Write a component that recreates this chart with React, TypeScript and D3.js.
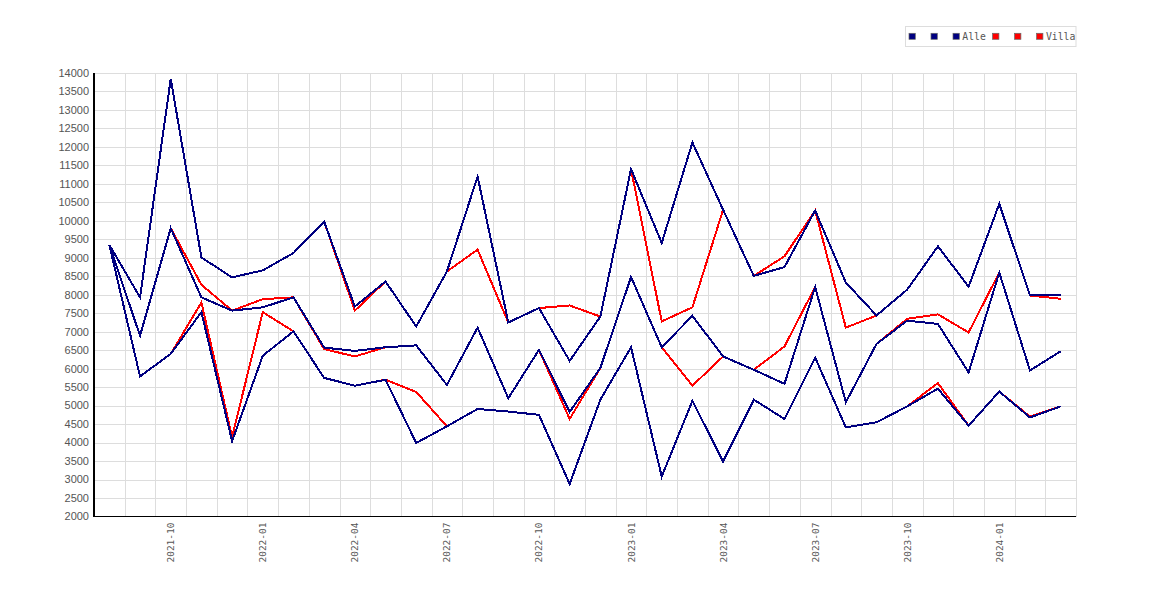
import * as d3 from 'd3';
import React from 'react';

const months = [
  '2021-08', '2021-09', '2021-10', '2021-11', '2021-12',
  '2022-01', '2022-02', '2022-03', '2022-04', '2022-05', '2022-06',
  '2022-07', '2022-08', '2022-09', '2022-10', '2022-11', '2022-12',
  '2023-01', '2023-02', '2023-03', '2023-04', '2023-05', '2023-06',
  '2023-07', '2023-08', '2023-09', '2023-10', '2023-11', '2023-12',
  '2024-01', '2024-02', '2024-03'
];

const alleHigh = [9350, 7930, 13840, 9010, 8470, 8660, 9130, 9980, 7680, 8360, 7140, 8630, 11200, 7250, 7640, 6210, 7410, 11400, 9400, 12120, 10300, 8510, 8750, 10280, 8330, 7440, 8140, 9310, 8220, 10460, 7980, 7980];
const alleMid = [9350, 6890, 9800, 7930, 7570, 7660, 7930, 6570, 6480, 6580, 6630, 5560, 7110, 5200, 6510, 4830, 6020, 8480, 6580, 7430, 6330, 5970, 5590, 8210, 5090, 6670, 7300, 7210, 5900, 8600, 5950, 6470];
const alleLow = [9350, 5790, 6400, 7530, 4040, 6350, 7010, 5750, 5540, 5700, 3990, 4440, 4910, 4840, 4750, 2880, 5160, 6580, 3080, 5130, 3490, 5160, 4640, 6300, 4410, 4550, 4980, 5460, 4460, 5380, 4680, 4980];

const villaHigh = [9350, 7930, 13840, 9010, 8470, 8660, 9130, 9980, 7570, 8360, 7140, 8630, 9220, 7250, 7640, 7710, 7410, 11400, 7280, 7660, 10300, 8510, 9040, 10280, 7110, 7440, 8140, 9310, 8220, 10460, 7980, 7890];
const villaMid = [9350, 6890, 9800, 8270, 7570, 7880, 7930, 6530, 6330, 6580, 6630, 5560, 7110, 5200, 6510, 4640, 6020, 8480, 6580, 5540, 6330, 5970, 6600, 8210, 5090, 6670, 7350, 7470, 6980, 8600, 5950, 6470];
const villaLow = [9350, 5790, 6400, 7790, 4150, 7530, 7010, 5750, 5540, 5700, 5370, 4440, 4910, 4840, 4750, 2880, 5160, 6580, 3080, 5130, 3490, 5160, 4640, 6300, 4410, 4550, 4980, 5610, 4460, 5380, 4700, 4980];

const yTicks = d3.range(2000, 14001, 500);

const legendItems = [
  {label: '', color: '#000080'},
  {label: '', color: '#000080'},
  {label: 'Alle', color: '#000080'},
  {label: '', color: '#ff0000'},
  {label: '', color: '#ff0000'},
  {label: 'Villa', color: '#ff0000'}
];

const series = [
  {values: villaHigh, color: '#ff0000'},
  {values: villaMid, color: '#ff0000'},
  {values: villaLow, color: '#ff0000'},
  {values: alleHigh, color: '#000080'},
  {values: alleMid, color: '#000080'},
  {values: alleLow, color: '#000080'}
];

const left = 94;
const right = 1076;
const top = 73;
const bottom = 516.5;

export default function App() {
  const x = d3.scaleBand<string>().domain(months).range([left, right]);
  const y = d3.scaleLinear().domain([2000, 14000]).range([bottom, top]);
  const cx = (m: string) => (x(m) as number) + x.bandwidth() / 2;

  const line = d3.line<number>()
    .x((_, i) => cx(months[i]))
    .y(d => y(d));

  const quarterLabels = months.filter(m => /-(01|04|07|10)$/.test(m));

  // legend layout
  let lx = 909;
  const legendPos = legendItems.map(item => {
    const pos = lx;
    lx += item.label ? 9.5 + item.label.length * 5.85 + 6.7 : 22;
    return pos;
  });

  return (
    <svg width={1170} height={600} style={{position: 'absolute', left: 0, top: 0}}>
      <rect width={1170} height={600} fill='#fff'/>
      <g stroke='#dddddd' strokeWidth={1} shapeRendering='crispEdges'>
        {yTicks.slice(1).map(t => (
          <line key={t} x1={left} x2={right} y1={Math.round(y(t)) + 0.5} y2={Math.round(y(t)) + 0.5}/>
        ))}
        {months.map(m => {
          const gx = Math.round((x(m) as number) + x.bandwidth()) + 0.5;
          return <line key={m} x1={gx} x2={gx} y1={top} y2={bottom}/>;
        })}
      </g>
      <g fill='#555' fontFamily='"Liberation Sans", Arial, sans-serif' fontSize={11} textAnchor='end'>
        {yTicks.map(t => (
          <text key={t} x={89} y={y(t)} dy='0.35em'>{t}</text>
        ))}
      </g>
      <g fill='#555' fontFamily='"DejaVu Sans Mono", monospace' fontSize={9.5} textAnchor='end'>
        {quarterLabels.map(m => (
          <text key={m} transform={`translate(${cx(m) + 3.5},${bottom + 6}) rotate(-90)`}>{m}</text>
        ))}
      </g>
      <g fill='none' strokeWidth={2} strokeLinejoin='miter' shapeRendering='crispEdges'>
        {series.map((s, i) => (
          <path key={i} d={line(s.values) as string} stroke={s.color}/>
        ))}
      </g>
      <g stroke='#000' strokeWidth={1.5} shapeRendering='crispEdges'>
        <line x1={left} x2={left} y1={top} y2={bottom}/>
        <line x1={left} x2={right} y1={bottom} y2={bottom}/>
      </g>
      <g>
        <rect x={905.5} y={26.5} width={170.5} height={20} fill='#fff' stroke='#dddddd'/>
        {legendItems.map((item, i) => (
          <g key={i}>
            <rect x={legendPos[i]} y={33.3} width={6.3} height={6} fill={item.color} stroke='#666' strokeWidth={0.7}/>
            {item.label && (
              <text x={legendPos[i] + 9.3} y={40} fill='#555' fontFamily='"DejaVu Sans Mono", monospace' fontSize={9.8}>{item.label}</text>
            )}
          </g>
        ))}
      </g>
    </svg>
  );
}
